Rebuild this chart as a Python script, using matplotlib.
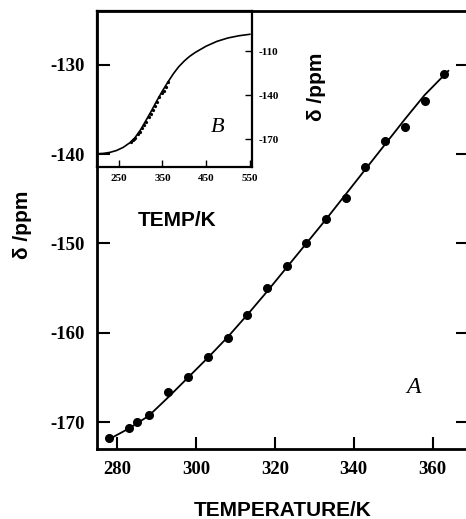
import matplotlib
matplotlib.use("Agg")
import matplotlib.pyplot as plt

plt.rcParams["axes.unicode_minus"] = False

# main panel A: measured shifts
temp_k = [278, 283, 285, 288, 293, 298, 303, 308, 313, 318,
          323, 328, 333, 338, 343, 348, 353, 358, 363]
shift_ppm = [-171.8, -170.6, -170.0, -169.2, -166.6, -164.9, -162.7, -160.6, -158.0, -155.0,
             -152.5, -149.9, -147.3, -144.9, -141.5, -138.5, -137.0, -134.1, -131.1]

# fitted curve
fit_t = [278, 283, 288, 293, 298, 303, 308, 313, 318, 323, 328, 333, 338, 343, 348, 353, 358, 364]
fit_d = [-171.9, -170.7, -169.3, -167.2, -165.0, -162.8, -160.5, -158.0, -155.4, -152.7,
         -150.0, -147.3, -144.5, -141.7, -138.9, -136.1, -133.4, -130.7]

# inset B: extrapolated fit curve
ins_t = [200, 215, 230, 245, 260, 275, 287, 300, 312, 325, 337, 350, 362,
         375, 387, 400, 412, 425, 450, 475, 500, 525, 550]
ins_d = [-180.0, -179.7, -179.0, -177.7, -175.6, -172.5, -169.0, -163.5, -157.3, -150.5,
         -143.8, -137.0, -131.2, -125.3, -120.6, -116.6, -113.5, -110.8, -106.5, -103.2,
         -100.9, -99.4, -98.4]

main_xticks = [280, 300, 320, 340, 360]
main_yticks = [-170, -160, -150, -140, -130]
ins_xticks = [250, 350, 450, 550]
ins_yticks = [-170, -140, -110]

SERIF = "Liberation Serif"
SANS = "Liberation Sans"

W, H = 466, 519
fig = plt.figure(figsize=(W / 100, H / 100), dpi=100)

def box(l, t, r, b):
    return [l / W, 1 - b / H, (r - l) / W, (b - t) / H]

ax = fig.add_axes(box(97, 11, 468, 449))
ax.plot(fit_t, fit_d, color="black", lw=1.3)
ax.plot(temp_k, shift_ppm, "o", color="black", ms=5.5)
ax.set_xlim(274.9, 369.0)
ax.set_ylim(-173.0, -124.0)
ax.set_xticks(main_xticks)
ax.set_yticks(main_yticks)
ax.tick_params(direction="in", length=9, width=1.5, right=True, labelsize=13.5, pad=9)
for lab in ax.get_xticklabels() + ax.get_yticklabels():
    lab.set_fontfamily(SERIF)
    lab.set_fontweight("bold")
for sp in ax.spines.values():
    sp.set_linewidth(2.0)
ax.text(0.853, 0.14, "A", transform=ax.transAxes, fontsize=17, style="italic",
        family=SERIF, ha="center", va="center")

# inset
ins = fig.add_axes(box(97, 11, 252, 167))
ins.patch.set_visible(False)
ins.plot(ins_t, ins_d, color="black", lw=1.2)
ins.plot(temp_k, shift_ppm, "o", color="black", ms=1.3)
ins.set_xlim(200, 555)
ins.set_ylim(-189, -82.5)
ins.set_xticks(ins_xticks)
ins.set_yticks(ins_yticks)
ins.yaxis.tick_right()
ins.tick_params(direction="in", length=5, width=1.0, labelsize=8, pad=5)
for lab in ins.get_xticklabels() + ins.get_yticklabels():
    lab.set_fontfamily(SERIF)
    lab.set_fontweight("bold")
for sp in ins.spines.values():
    sp.set_linewidth(1.6)
ins.text(0.78, 0.25, "B", transform=ins.transAxes, fontsize=16, style="italic",
         family=SERIF, ha="center", va="center")

# axis labels
fig.text(283 / W, 1 - 511 / H, "TEMPERATURE/K", family=SANS, weight="bold",
         fontsize=15, ha="center", va="center")
fig.text(22.5 / W, 1 - 225 / H, "δ /ppm", family=SANS, weight="bold",
         fontsize=15, ha="center", va="center", rotation=90)
fig.text(177 / W, 1 - 220 / H, "TEMP/K", family=SANS, weight="bold",
         fontsize=15, ha="center", va="center")
fig.text(316 / W, 1 - 87 / H, "δ /ppm", family=SANS, weight="bold",
         fontsize=15, ha="center", va="center", rotation=90)

fig.savefig("out.png", dpi=100)
